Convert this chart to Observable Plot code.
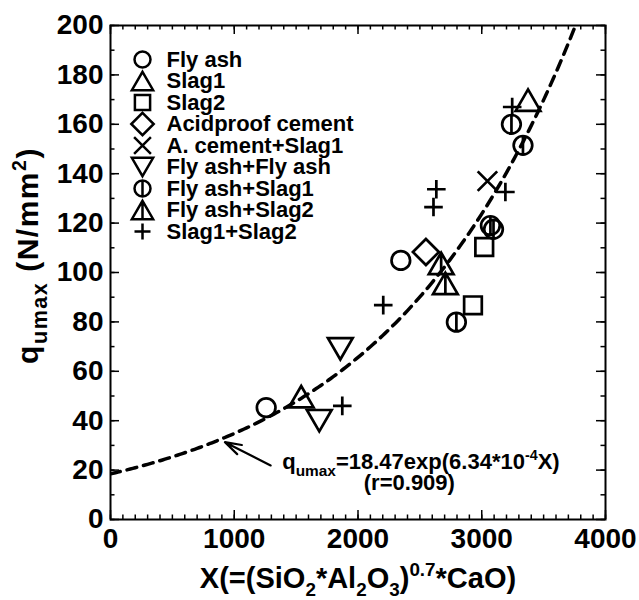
<!DOCTYPE html>
<html><head><meta charset="utf-8">
<script src="https://cdn.jsdelivr.net/npm/d3@7"></script>
<script src="https://cdn.jsdelivr.net/npm/@observablehq/plot@0.6"></script>
<style>
body{margin:0;background:#fff}
#chart{width:639px;height:600px}
</style>
</head><body><div id="chart"></div>
<script>
// ---- data ----
const seriesNames = ["Fly ash","Slag1","Slag2","Acidproof cement","A. cement+Slag1","Fly ash+Fly ash","Fly ash+Slag1","Fly ash+Slag2","Slag1+Slag2"];
const seriesShapes = ["circle","triangleUp","square","diamond","times","triangleDown","circleBar","triangleBar","plus"];
const flyAshX = [1258, 2346];            const flyAshY = [45.3, 104.9];
const slag1X = [1541, 3374];             const slag1Y = [49.7, 169.8];
const slag2X = [2929, 3020];             const slag2Y = [86.7, 110.3];
const acidX = [2549];                    const acidY = [108.3];
const acSlag1X = [3046];                 const acSlag1Y = [137];
const faFaX = [1687, 1857];              const faFaY = [40, 69.1];
const faSlag1X = [2795, 3070, 3095, 3240, 3333]; const faSlag1Y = [79.9, 119, 117.5, 160, 151.5];
const faSlag2X = [2672, 2706];           const faSlag2Y = [103.7, 95.6];
const slag12X = [1873, 2204, 2610, 2633, 3191, 3246]; const slag12Y = [46, 86.8, 126.5, 133.7, 132.6, 167];
const seriesX = [flyAshX, slag1X, slag2X, acidX, acSlag1X, faFaX, faSlag1X, faSlag2X, slag12X];
const seriesY = [flyAshY, slag1Y, slag2Y, acidY, acSlag1Y, faFaY, faSlag1Y, faSlag2Y, slag12Y];

// fitted curve q = A exp(B X), r
const fitA = 18.47, fitB = 6.34e-4, fitR = 0.909;
// annotation anchor (data units)
const arrowTip = {x: 925, y: 31.3};
const arrowTail = {x: 1294, y: 21.9};
const annLine1 = {x: 1388, y: 23.1};
const annLine2 = {x: 2415, y: 14.9};

const xTicks = [0, 1000, 2000, 3000, 4000];
const yTicks = [0, 20, 40, 60, 80, 100, 120, 140, 160, 180, 200];
const xMinor = d3.range(0, 4001, 100);
const yMinor = d3.range(0, 201, 10);

// ---- symbols ----
const shapes = {
  circle: (c, r) => { c.moveTo(r, 0); c.arc(0, 0, r, 0, 2 * Math.PI); },
  square: (c, r) => { const s = 0.95 * r; c.rect(-s, -s, 2 * s, 2 * s); },
  diamond: (c, r) => { const s = 1.4 * r; c.moveTo(0, -s); c.lineTo(s, 0); c.lineTo(0, s); c.lineTo(-s, 0); c.closePath(); },
  triangleUp: (c, r) => { const w = 1.33 * r, h = 1.15 * r; c.moveTo(0, -h); c.lineTo(w, h); c.lineTo(-w, h); c.closePath(); },
  triangleDown: (c, r) => { const w = 1.33 * r, h = 1.15 * r; c.moveTo(0, h); c.lineTo(w, -h); c.lineTo(-w, -h); c.closePath(); },
  times: (c, r) => { const s = 1.05 * r; c.moveTo(-s, -s); c.lineTo(s, s); c.moveTo(s, -s); c.lineTo(-s, s); },
  plus: (c, r) => { const s = 1.0 * r; c.moveTo(-s, 0); c.lineTo(s, 0); c.moveTo(0, -s); c.lineTo(0, s); },
  circleBar: (c, r) => { shapes.circle(c, r); c.moveTo(0, -r); c.lineTo(0, r); },
  triangleBar: (c, r) => { shapes.triangleUp(c, r); c.moveTo(0, -1.15 * r); c.lineTo(0, 1.15 * r); }
};
const symbolOf = name => ({draw(c, size) { shapes[name](c, Math.sqrt(size / Math.PI)); }});

const W = 639, H = 600, mL = 110, mR = 34, mT = 25, mB = 81;
const fW = W - mL - mR, fH = H - mT - mB;
const curve = d3.range(0, 4001, 20).map(x => ({x, y: fitA * Math.exp(fitB * x)}));

const marks = [];
marks.push(Plot.line(curve, {x: "x", y: "y", stroke: "black", strokeWidth: 3.5, strokeDasharray: "10,7", clip: true}));
seriesNames.forEach((name, i) => {
  const rows = seriesX[i].map((x, j) => ({x, y: seriesY[i][j]}));
  const sym = symbolOf(seriesShapes[i]);
  marks.push(Plot.dot(rows, {x: "x", y: "y", r: 9.3, symbol: sym, stroke: "black", strokeWidth: 2.7, fill: "none"}));
  // legend entry
  marks.push(Plot.dot([name], {frameAnchor: "top-left", dx: 32, dy: 34 + 21.5 * i, r: 8, symbol: sym, stroke: "black", strokeWidth: 2.5, fill: "none"}));
  marks.push(Plot.text([name], {text: d => d, frameAnchor: "top-left", dx: 56, dy: 34 + 21.5 * i, textAnchor: "start", lineAnchor: "middle", fontSize: 22, fontWeight: "bold", fill: "black"}));
});
// ticks (inward, on all four sides)
marks.push(Plot.tickX(xMinor, {x: d => d, insetTop: fH - 4.5, strokeWidth: 1.5}));
marks.push(Plot.tickX(xTicks, {x: d => d, insetTop: fH - 9, strokeWidth: 1.5}));
marks.push(Plot.tickX(xMinor, {x: d => d, insetBottom: fH - 4.5, strokeWidth: 1.5}));
marks.push(Plot.tickX(xTicks, {x: d => d, insetBottom: fH - 9, strokeWidth: 1.5}));
marks.push(Plot.tickY(yMinor, {y: d => d, insetRight: fW - 4.5, strokeWidth: 1.5}));
marks.push(Plot.tickY(yTicks, {y: d => d, insetRight: fW - 9, strokeWidth: 1.5}));
marks.push(Plot.tickY(yMinor, {y: d => d, insetLeft: fW - 4.5, strokeWidth: 1.5}));
marks.push(Plot.tickY(yTicks, {y: d => d, insetLeft: fW - 9, strokeWidth: 1.5}));
marks.push(Plot.frame({stroke: "black", strokeWidth: 2}));
marks.push(Plot.axisX(xTicks, {tickSize: 0, tickPadding: 8.5, fontSize: 28, fontWeight: "bold", label: null, tickFormat: d => String(d)}));
marks.push(Plot.axisY(yTicks, {tickSize: 0, tickPadding: 7, fontSize: 28, fontWeight: "bold", label: null, tickFormat: d => String(d)}));
// axis labels (rich text applied after render)
marks.push(Plot.text(["XLABEL"], {frameAnchor: "bottom", dx: 0, dy: 59, textAnchor: "middle", lineAnchor: "middle", fontSize: 29, fontWeight: "bold", fill: "black"}));
marks.push(Plot.text(["YLABEL"], {frameAnchor: "left", dx: -82, dy: -17, rotate: -90, textAnchor: "middle", lineAnchor: "middle", fontSize: 30, fontWeight: "bold", fill: "black"}));
// annotation
marks.push(Plot.arrow([0], {x1: () => arrowTail.x, y1: () => arrowTail.y, x2: () => arrowTip.x, y2: () => arrowTip.y, stroke: "black", strokeWidth: 2.2, headLength: 13, headAngle: 35}));
marks.push(Plot.text(["ANN1"], {x: () => annLine1.x, y: () => annLine1.y, textAnchor: "start", lineAnchor: "middle", fontSize: 22, fontWeight: "bold", fill: "black"}));
marks.push(Plot.text([`(r=${fitR})`], {x: () => annLine2.x, y: () => annLine2.y, textAnchor: "middle", lineAnchor: "middle", fontSize: 22, fontWeight: "bold", fill: "black"}));

const chart = Plot.plot({
  width: W, height: H,
  marginLeft: mL, marginRight: mR, marginTop: mT, marginBottom: mB,
  x: {domain: [0, 4000]},
  y: {domain: [0, 200]},
  style: {fontFamily: "'Liberation Sans', Arial, Helvetica, sans-serif", color: "black", background: "white", overflow: "visible"},
  marks
});
document.getElementById("chart").appendChild(chart);

// rich text (sub/superscripts)
function rich(marker, parts, size, spacing) {
  d3.select(chart).selectAll("text").filter(function() { return this.textContent === marker; }).each(function() {
    const t = d3.select(this);
    t.text(null);
    if (spacing) t.attr("letter-spacing", spacing);
    let shift = 0;
    parts.forEach(p => {
      const target = p.sub ? size * 0.28 : p.sup ? -size * 0.42 : 0;
      const ts = t.append("tspan").text(p.t);
      if (target !== shift) { ts.attr("dy", target - shift); shift = target; }
      if (p.sub || p.sup) ts.attr("font-size", size * (p.scale || 0.65));
    });
  });
}
rich("XLABEL", [{t: "X(=(SiO"}, {t: "2", sub: 1}, {t: "*Al"}, {t: "2", sub: 1}, {t: "O"}, {t: "3", sub: 1}, {t: ")"}, {t: "0.7", sup: 1}, {t: "*CaO)"}], 29);
rich("YLABEL", [{t: "q"}, {t: "umax", sub: 1, scale: 0.72}, {t: " (N/mm"}, {t: "2", sup: 1}, {t: ")"}], 30, 1.5);
rich("ANN1", [{t: "q"}, {t: "umax", sub: 1, scale: 0.7}, {t: "=18.47exp(6.34*10"}, {t: "-4", sup: 1}, {t: "X)"}], 22);
</script>
</body></html>
